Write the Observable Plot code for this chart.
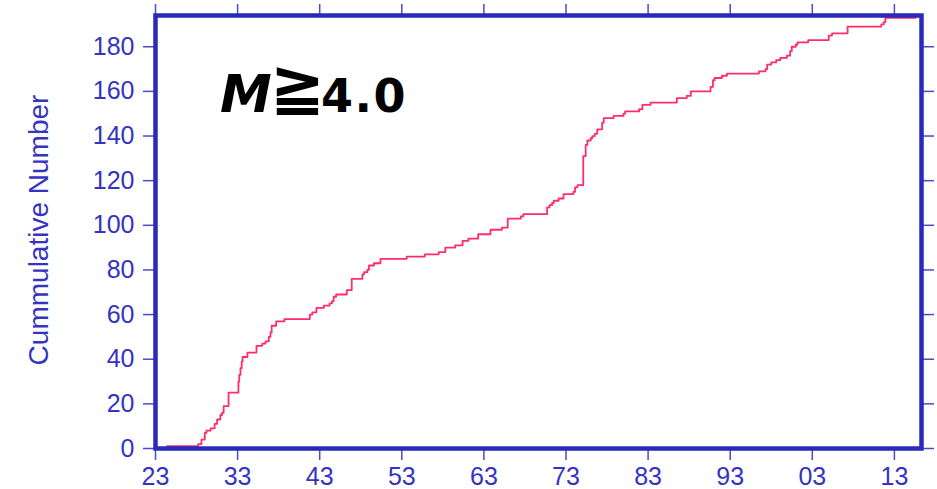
<!DOCTYPE html>
<html>
<head>
<meta charset="utf-8">
<script src="https://cdn.jsdelivr.net/npm/d3@7"></script>
<script src="https://cdn.jsdelivr.net/npm/@observablehq/plot@0.6"></script>
<style>
  html, body { margin: 0; padding: 0; background: #fff; }
  #chart svg { display: block; }
</style>
</head>
<body>
<div id="chart"></div>
<script>
// Step points of the cumulative count (year, cumulative number after the step)
const years = [
  1924.4, 1928.2, 1928.6, 1929.0, 1929.2, 1929.7, 1930.2, 1930.5, 1930.9, 1931.1, 1931.3,
  1931.9, 1933.1, 1933.2, 1933.35, 1933.5, 1933.6, 1934.2, 1935.3, 1936.0, 1936.4, 1936.8,
  1937.0, 1937.15, 1937.7, 1938.7, 1941.8, 1942.1, 1942.6, 1943.5, 1944.2, 1944.5, 1944.7,
  1945.0, 1946.3, 1946.9, 1948.2, 1948.4, 1948.8, 1949.0, 1949.6, 1950.4, 1953.6, 1955.8,
  1957.5, 1958.3, 1959.5, 1960.4, 1961.1, 1962.3, 1963.8, 1965.2, 1965.9, 1967.5, 1967.8,
  1970.7, 1971.0, 1971.3, 1971.5, 1972.1, 1972.7, 1973.9, 1974.1, 1974.4, 1975.1, 1975.4,
  1975.6, 1976.0, 1976.2, 1976.5, 1976.8, 1977.4, 1977.6, 1978.8, 1980.0, 1980.2, 1981.9,
  1982.3, 1983.3, 1986.5, 1987.7, 1988.2, 1990.6, 1990.9, 1991.1, 1992.0, 1992.6, 1996.5,
  1997.3, 1997.5, 1998.0, 1998.6, 1999.1, 1999.9, 2000.3, 2000.5, 2001.0, 2001.2, 2002.5,
  2005.0, 2005.4, 2007.3, 2011.4, 2011.7, 2011.9, 2015.6
];
const counts = [
  1, 2, 4, 7, 8, 9, 11, 13, 15, 16, 19,
  25, 30, 33, 36, 39, 41, 43, 46, 47, 48, 50,
  52, 55, 57, 58, 60, 61, 63, 64, 65, 66, 68,
  69, 71, 76, 78, 79, 80, 82, 83, 85, 86, 87,
  88, 90, 91, 93, 94, 96, 98, 99, 103, 104, 105,
  108, 109, 110, 111, 112, 114, 115, 117, 118, 131, 136,
  138, 139, 140, 141, 143, 146, 148, 149, 150, 151, 152,
  154, 155, 157, 158, 160, 162, 165, 166, 167, 168, 169,
  170, 172, 173, 174, 175, 176, 178, 180, 181, 182, 183,
  185, 186, 189, 190, 191, 193, 193
];
const xTicks = [1923, 1933, 1943, 1953, 1963, 1973, 1983, 1993, 2003, 2013];
const xTickLabels = ["23", "33", "43", "53", "63", "73", "83", "93", "03", "13"];
const yTicks = [0, 20, 40, 60, 80, 100, 120, 140, 160, 180];
const yLabel = "Cummulative Number";
const annotation = ["M", "≧", "4.0"];

const data = years.map((y, i) => ({year: y, count: counts[i]}));

const frameColor = "#2a2ab8";
const tickColor = "#4a4acc";
const textColor = "#3434c0";
const font = "'Liberation Sans', Arial, sans-serif";
const boldFont = "'DejaVu Sans', sans-serif";

const chart = Plot.plot({
  width: 937,
  height: 489,
  marginLeft: 155,
  marginRight: 16,
  marginTop: 15,
  marginBottom: 41,
  style: {fontFamily: font, background: "#fff", overflow: "visible"},
  x: {domain: [1923, 2016.3]},
  y: {domain: [0, 194]},
  marks: [
    Plot.line(data, {x: "year", y: "count", curve: "step-after", stroke: "#ff2d6e", strokeWidth: 1.8}),
    Plot.axisX({anchor: "bottom", ticks: xTicks, tickFormat: (d) => xTickLabels[xTicks.indexOf(d)],
      tickSize: 12, tickPadding: 7, fontSize: 25, stroke: tickColor, strokeWidth: 1.5, fill: textColor, label: null}),
    Plot.axisX({anchor: "top", ticks: xTicks, tickFormat: () => "", tickSize: 12,
      stroke: tickColor, strokeWidth: 1.5, label: null}),
    Plot.axisY({anchor: "left", ticks: yTicks, tickSize: 12, tickPadding: 9, fontSize: 25,
      stroke: tickColor, strokeWidth: 1.5, fill: textColor, label: null}),
    Plot.axisY({anchor: "right", ticks: yTicks, tickFormat: () => "", tickSize: 12,
      stroke: tickColor, strokeWidth: 1.5, label: null}),
    Plot.frame({stroke: frameColor, strokeWidth: 4.5})
  ]
});

document.getElementById("chart").appendChild(chart);

const svg = d3.select(chart);

// Y axis title
svg.append("text")
  .attr("transform", "translate(48,230) rotate(-90)")
  .attr("text-anchor", "middle")
  .attr("font-family", font)
  .attr("font-size", 28)
  .attr("fill", textColor)
  .text(yLabel);

// Annotation "M≧4.0"
const t = svg.append("text")
  .attr("fill", "#000")
  .attr("font-weight", "bold")
  .attr("font-family", boldFont)
  .attr("text-anchor", "start");
t.append("tspan").attr("x", 220).attr("y", 112).attr("font-style", "italic")
  .attr("font-size", 52).text(annotation[0]);
t.append("tspan").attr("x", 297.5).attr("y", 108).attr("text-anchor", "middle")
  .attr("font-size", 66).text(annotation[1]);
t.append("tspan").attr("x", 321).attr("y", 112).attr("font-size", 46)
  .attr("letter-spacing", 1.5).text(annotation[2]);
</script>
</body>
</html>
